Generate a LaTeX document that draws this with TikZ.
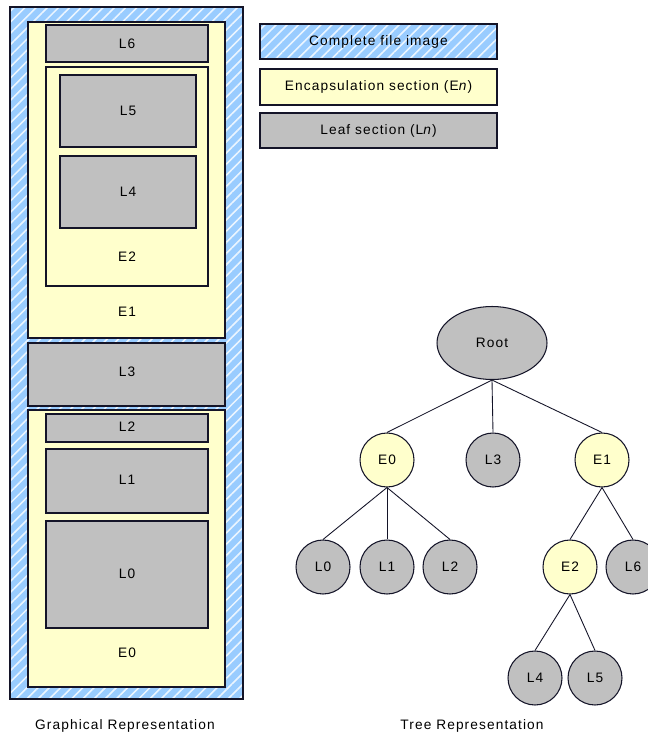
\documentclass[tikz,border=0pt]{standalone}
\usepackage{fontspec}
\setmainfont{Liberation Sans}[LetterSpace=8]
\usetikzlibrary{shapes.geometric,patterns.meta}
\definecolor{fileblue}{RGB}{153,204,255}
\definecolor{encyel}{RGB}{255,255,204}
\definecolor{leafgray}{RGB}{192,192,192}
\definecolor{edgec}{RGB}{20,20,40}
\tikzset{
  lbl/.style={font=\fontsize{7.8}{9}\selectfont, inner sep=0pt},
  filebox/.style={fill=fileblue,
     postaction={pattern={Lines[angle=45,distance=4.5pt,line width=0.9pt]}, pattern color=white!80!fileblue},
     postaction={draw=edgec, line width=0.8pt}},
  encbox/.style={draw=edgec, line width=0.8pt, fill=encyel},
  leafbox/.style={draw=edgec, line width=0.8pt, fill=leafgray},
  encnode/.style={circle, draw=edgec, line width=0.6pt, fill=encyel, minimum size=1.08cm, inner sep=0pt, font=\fontsize{7.8}{9}\selectfont},
  leafnode/.style={circle, draw=edgec, line width=0.6pt, fill=leafgray, minimum size=1.08cm, inner sep=0pt, font=\fontsize{7.8}{9}\selectfont},
  link/.style={draw=edgec, line width=0.5pt}
}
\begin{document}
\begin{tikzpicture}[x=0.02cm, y=-0.02cm]
\useasboundingbox (0,0) rectangle (648,737);
\clip (0,0) rectangle (648,737);
\fill[white] (0,0) rectangle (648,737);
% graphical representation
\path[filebox] (10,7) rectangle (243,699);
\draw[encbox] (28,22) rectangle (225,338);
\draw[leafbox] (46,25) rectangle (208,62);
\node[lbl] (gL6) at (127,43.5) {L6};
\draw[encbox] (46,67) rectangle (208,286);
\draw[leafbox] (60,75) rectangle (196,147);
\node[lbl] (gL5) at (128,111) {L5};
\draw[leafbox] (60,156) rectangle (196,228);
\node[lbl] (gL4) at (128,192) {L4};
\node[lbl] (gE2) at (127,257) {E2};
\node[lbl] (gE1) at (127,312) {E1};
\draw[leafbox] (28,343) rectangle (225,406);
\node[lbl] (gL3) at (127,372) {L3};
\draw[encbox] (28,410) rectangle (225,687);
\draw[leafbox] (46,414) rectangle (208,442);
\node[lbl] (gL2) at (127,427) {L2};
\draw[leafbox] (46,449) rectangle (208,513);
\node[lbl] (gL1) at (127,480) {L1};
\draw[leafbox] (46,521) rectangle (208,628);
\node[lbl] (gL0) at (127,574) {L0};
\node[lbl] (gE0) at (127,653) {E0};
\node[lbl] (gcap) at (125,726) {Graphical Representation};
% legend
\path[filebox] (260,24) rectangle (497,59);
\node[lbl] (lg1) at (378.5,41.5) {Complete file image};
\draw[encbox] (260,69) rectangle (497,105);
\node[lbl] (lg2) at (378.5,87) {Encapsulation section (E\textit{n})};
\draw[leafbox] (260,113) rectangle (497,148);
\node[lbl] (lg3) at (378.5,130.5) {Leaf section (L\textit{n})};
% tree
\node[ellipse, draw=edgec, line width=0.6pt, fill=leafgray, minimum width=2.2cm, minimum height=1.46cm, inner sep=0pt, font=\fontsize{7.8}{9}\selectfont] (root) at (492,343) {Root};
\node[encnode] (E0) at (387,460) {E0};
\node[leafnode] (L3) at (493,460) {L3};
\node[encnode] (E1) at (602,460) {E1};
\node[leafnode] (L0) at (323,567) {L0};
\node[leafnode] (L1) at (387,567) {L1};
\node[leafnode] (L2) at (450,567) {L2};
\node[encnode] (E2) at (570,567) {E2};
\node[leafnode] (L6) at (633,567) {L6};
\node[leafnode] (L4) at (535,678) {L4};
\node[leafnode] (L5) at (595,678) {L5};
\draw[link] (root.south) -- (E0.north);
\draw[link] (root.south) -- (L3.north);
\draw[link] (root.south) -- (E1.north);
\draw[link] (E0.south) -- (L0.north);
\draw[link] (E0.south) -- (L1.north);
\draw[link] (E0.south) -- (L2.north);
\draw[link] (E1.south) -- (E2.north);
\draw[link] (E1.south) -- (L6.north);
\draw[link] (E2.south) -- (L4.north);
\draw[link] (E2.south) -- (L5.north);
\node[lbl] (tcap) at (472,726) {Tree Representation};
\end{tikzpicture}
\end{document}
